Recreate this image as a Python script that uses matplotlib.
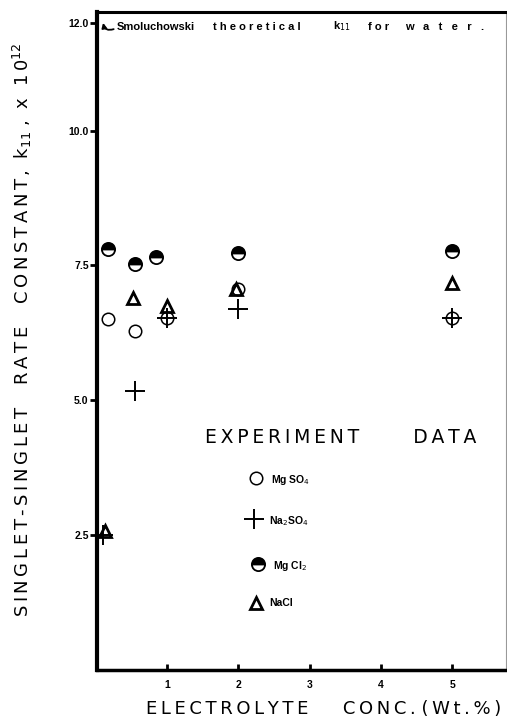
import matplotlib
matplotlib.use("Agg")
import matplotlib.pyplot as plt

# ---- data ----
mgso4_x = [0.17, 0.55, 1.0, 2.0, 5.0]
mgso4_y = [6.50, 6.28, 6.52, 7.06, 6.52]
na2so4_x = [0.10, 0.55, 1.0, 2.0, 5.0]
na2so4_y = [2.50, 5.17, 6.52, 6.69, 6.52]
mgcl2_x = [0.17, 0.55, 0.85, 2.0, 5.0]
mgcl2_y = [7.80, 7.52, 7.65, 7.74, 7.76]
nacl_x = [0.13, 0.52, 1.0, 1.97, 5.0]
nacl_y = [2.57, 6.89, 6.74, 7.06, 7.17]

xticks = [1, 2, 3, 4, 5]
xticklabels = ["1", "2", "3", "4", "5"]
yticks = [2.5, 5.0, 7.5, 10.0, 12.0]
yticklabels = ["2.5", "5.0", "7.5", "10.0", "12.0"]
smoluchowski_k = 12.0

plt.rcParams['font.family'] = ['DejaVu Sans']


def sp(s, sep='\u2009'):
    return sep.join(s)


fig = plt.figure(figsize=(5.07, 7.27), dpi=100)
ax = fig.add_axes([97/507, 57/727, 409/507, 658/727])

ax.set_xlim(0.02, 5.75)
ax.set_ylim(0, 12.2)

# data series
ax.plot(mgso4_x, mgso4_y, linestyle='none', marker='o', ms=9, mfc='white',
        mec='black', mew=1.1, zorder=3)
ax.plot(nacl_x, nacl_y, linestyle='none', marker='^', ms=9, mfc='none',
        mec='black', mew=2.0, zorder=4)
ax.plot(na2so4_x, na2so4_y, linestyle='none', marker='+', ms=15,
        mec='black', mew=1.4, zorder=5)
ax.plot(mgcl2_x, mgcl2_y, linestyle='none', marker='o', ms=9.5,
        fillstyle='top', mfc='black', mfcalt='white', mec='black', mew=1.3,
        zorder=3)

# spines
ax.spines['left'].set_linewidth(3.0)
ax.spines['bottom'].set_linewidth(2.5)
ax.spines['top'].set_linewidth(2.2)
ax.spines['right'].set_linewidth(0.8)
ax.spines['right'].set_color('#999999')

bold_small = dict(family=['Liberation Sans', 'DejaVu Sans'], weight='bold')

ax.set_xticks(xticks)
ax.set_xticklabels(xticklabels, fontsize=7.5, **bold_small)
ax.set_yticks(yticks)
ax.set_yticklabels(yticklabels, fontsize=7.5, **bold_small)
ax.tick_params(axis='x', direction='in', length=4, width=2, pad=7)
ax.tick_params(axis='y', direction='out', length=5, width=2, pad=1)

ax.set_xlabel(sp("ELECTROLYTE") + "      " + sp("CONC.") + " " + sp("(Wt.%)"),
              fontsize=13, va='top')
ax.xaxis.set_label_coords(0.553, -0.045)
ax.set_ylabel(sp("SINGLET-SINGLET") + "    " + sp("RATE") + "    "
              + sp("CONSTANT,") + "  k$_{11}$ ,  x  " + sp("10") + "$^{12}$",
              fontsize=13)
ax.yaxis.set_label_coords(-0.155, 0.517)

# annotation for Smoluchowski value
ax.annotate("", xy=(0.10, smoluchowski_k + 0.05),
            xytext=(0.29, smoluchowski_k - 0.1),
            arrowprops=dict(arrowstyle='-|>', lw=1.3, color='black',
                            mutation_scale=7,
                            connectionstyle='arc3,rad=-0.7'))
words = [("Smoluchowski", 0.30), (" ".join("theoretical"), 1.645),
         ("k$_{11}$", 3.33), (" ".join("for"), 3.81),
         ("   ".join("water."), 4.34)]
for w, xw in words:
    ax.text(xw, smoluchowski_k - 0.07, w, fontsize=8, va='center',
            ha='left', **bold_small)

# legend (manual)
ax.text(0.597, 0.3526, sp("EXPERIMENT") + "         " + sp("DATA"),
        transform=ax.transAxes, fontsize=13.5, ha='center', va='center')
lx = 0.389
ax.plot([lx], [0.292], transform=ax.transAxes, marker='o', ms=9, mfc='white',
        mec='black', mew=1.1, clip_on=False)
ax.text(0.425, 0.289, "Mg SO$_4$", transform=ax.transAxes, fontsize=7.5,
        va='center', **bold_small)
ax.plot([0.384], [0.2295], transform=ax.transAxes, marker='+', ms=15,
        mec='black', mew=1.4, clip_on=False)
ax.text(0.420, 0.227, "Na$_2$SO$_4$", transform=ax.transAxes, fontsize=7.5,
        va='center', **bold_small)
ax.plot([0.394], [0.161], transform=ax.transAxes, marker='o', ms=9.5,
        fillstyle='top', mfc='black', mfcalt='white', mec='black', mew=1.3,
        clip_on=False)
ax.text(0.430, 0.158, "Mg Cl$_2$", transform=ax.transAxes, fontsize=7.5,
        va='center', **bold_small)
ax.plot([lx], [0.102], transform=ax.transAxes, marker='^', ms=9, mfc='none',
        mec='black', mew=2.0, clip_on=False)
ax.text(0.420, 0.102, "NaCl", transform=ax.transAxes, fontsize=7.5,
        va='center', **bold_small)

fig.savefig("out.png", dpi=100)
